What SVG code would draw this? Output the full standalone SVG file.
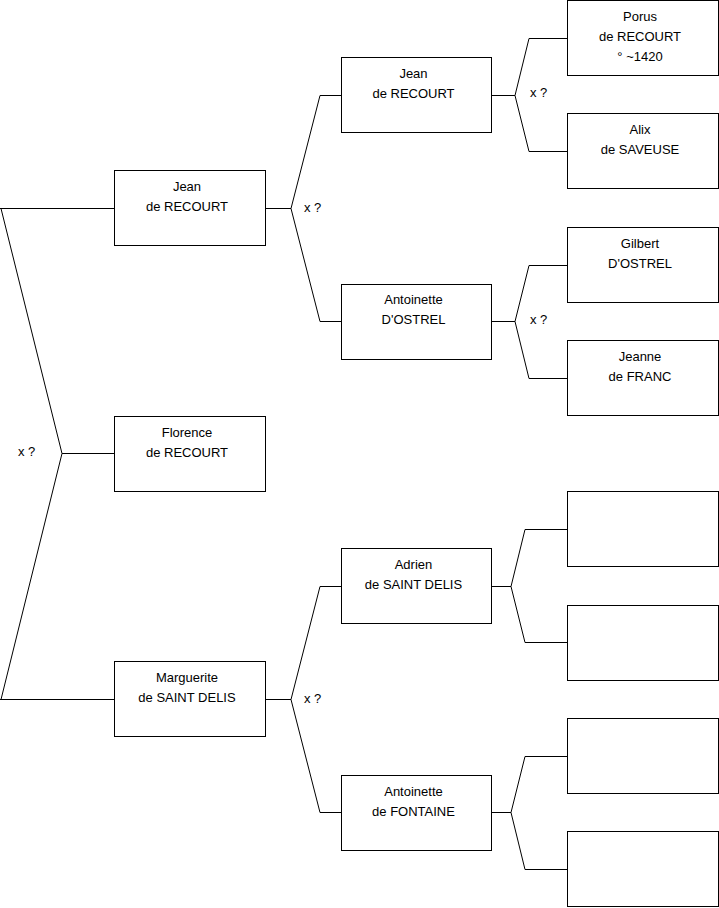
<svg xmlns="http://www.w3.org/2000/svg" width="719" height="908" viewBox="0 0 719 908">
<style>
.box{fill:#fff;stroke:#000;stroke-width:1}
.ln{fill:none;stroke:#000;stroke-width:1}
text{font-family:"Liberation Sans",Arial,sans-serif;font-size:13px;fill:#000}
.c{text-anchor:middle}
</style>
<rect width="719" height="908" fill="#fff"/>
<g id="connectors">
<path class="ln" d="M0 208.5H114 M0 699.5H114 M1 208.5L62 453.5L1 699.5 M62 453.5H114"/>
<path class="ln" d="M265 208.5H291 M320 95.5L291 208.5L320 321.5 M320 95.5H341 M320 321.5H341"/>
<path class="ln" d="M265 699.5H291 M320 586.5L291 699.5L320 812.5 M320 586.5H341 M320 812.5H341"/>
<path class="ln" d="M491 95.5H515 M529 38.5L515 95.5L529 151.5 M529 38.5H567 M529 151.5H567"/>
<path class="ln" d="M491 321.5H515 M529 265.5L515 321.5L529 378.5 M529 265.5H567 M529 378.5H567"/>
<path class="ln" d="M491 586.5H511 M525 529.5L511 586.5L525 642.5 M525 529.5H567 M525 642.5H567"/>
<path class="ln" d="M491 812.5H511 M525 756.5L511 812.5L525 869.5 M525 756.5H567 M525 869.5H567"/>
</g>
<g id="labels">
<text x="18" y="456">x ?</text>
<text x="304" y="212">x ?</text>
<text x="304" y="703">x ?</text>
<text x="530" y="97">x ?</text>
<text x="530" y="324">x ?</text>
</g>
<g id="n-jean1"><rect class="box" x="114.5" y="170.5" width="151" height="75"/><text class="c" x="187" y="191">Jean</text><text class="c" x="187" y="211">de RECOURT</text></g>
<g id="n-florence"><rect class="box" x="114.5" y="416.5" width="151" height="75"/><text class="c" x="187" y="437">Florence</text><text class="c" x="187" y="457">de RECOURT</text></g>
<g id="n-marguerite"><rect class="box" x="114.5" y="661.5" width="151" height="75"/><text class="c" x="187" y="682">Marguerite</text><text class="c" x="187" y="702">de SAINT DELIS</text></g>
<g id="n-jean2"><rect class="box" x="341.5" y="57.5" width="150" height="75"/><text class="c" x="413.5" y="78">Jean</text><text class="c" x="413.5" y="98">de RECOURT</text></g>
<g id="n-antoinette-ostrel"><rect class="box" x="341.5" y="284.5" width="150" height="75"/><text class="c" x="413.5" y="304">Antoinette</text><text class="c" x="413.5" y="324">D'OSTREL</text></g>
<g id="n-adrien"><rect class="box" x="341.5" y="548.5" width="150" height="75"/><text class="c" x="413.5" y="569">Adrien</text><text class="c" x="413.5" y="589">de SAINT DELIS</text></g>
<g id="n-antoinette-fontaine"><rect class="box" x="341.5" y="775.5" width="150" height="75"/><text class="c" x="413.5" y="796">Antoinette</text><text class="c" x="413.5" y="816">de FONTAINE</text></g>
<g id="n-porus"><rect class="box" x="567.5" y="0.5" width="151" height="75"/><text class="c" x="640" y="21">Porus</text><text class="c" x="640" y="41">de RECOURT</text><text class="c" x="640" y="61">° ~1420</text></g>
<g id="n-alix"><rect class="box" x="567.5" y="113.5" width="151" height="75"/><text class="c" x="640" y="134">Alix</text><text class="c" x="640" y="154">de SAVEUSE</text></g>
<g id="n-gilbert"><rect class="box" x="567.5" y="227.5" width="151" height="75"/><text class="c" x="640" y="248">Gilbert</text><text class="c" x="640" y="268">D'OSTREL</text></g>
<g id="n-jeanne"><rect class="box" x="567.5" y="340.5" width="151" height="75"/><text class="c" x="640" y="361">Jeanne</text><text class="c" x="640" y="381">de FRANC</text></g>
<g id="n-empty1"><rect class="box" x="567.5" y="491.5" width="151" height="75"/></g>
<g id="n-empty2"><rect class="box" x="567.5" y="605.5" width="151" height="75"/></g>
<g id="n-empty3"><rect class="box" x="567.5" y="718.5" width="151" height="75"/></g>
<g id="n-empty4"><rect class="box" x="567.5" y="831.5" width="151" height="75"/></g>
</svg>
